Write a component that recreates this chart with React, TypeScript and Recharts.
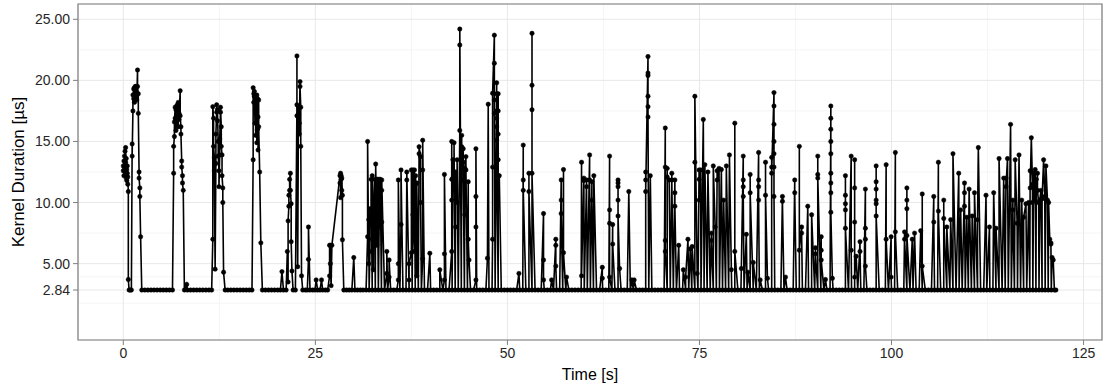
import React from 'react';
import { ComposedChart, Line, XAxis, YAxis, CartesianGrid, ReferenceArea } from 'recharts';

// kernel duration at rest (µs)
const BASE = 2.84;

// axis breaks
const xTicks = [0, 25, 50, 75, 100, 125];
const xMinorTicks = [12.5, 37.5, 62.5, 87.5, 112.5];
const yTicks = [2.84, 5, 10, 15, 20, 25];
const yMinorTicks = [0.68, 1.76, 3.92, 7.5, 12.5, 17.5, 22.5];
const X_DOMAIN: [number, number] = [-5.9, 127.4];
const Y_DOMAIN: [number, number] = [-1.25, 26.25];

// samples sitting on the baseline (time in s)
const baseA = [
  0.75, 0.9, 1.05,
  2.4, 2.8, 3.2, 3.6, 4.0, 4.4, 4.8, 5.2, 5.6, 6.0, 6.4,
  7.95, 8.35, 8.75, 9.15, 9.55, 9.95, 10.35, 10.75, 11.15, 11.5,
  13.25, 13.6, 14.0, 14.4, 14.8, 15.2, 15.6, 16.0, 16.4, 16.75,
  18.1, 18.5, 18.9, 19.3, 19.7, 20.1, 20.45, 20.85, 21.2,
  22.1, 22.4,
  23.35, 23.7, 23.95, 24.3, 24.65, 24.95, 25.3, 25.6, 25.95, 26.3, 26.6,
  28.7, 29.05, 29.4, 29.75, 30.15, 30.5, 30.85, 31.2,
];
const baseB = [
  31.6, 32.0, 32.4, 32.8, 33.2, 33.6, 34.0, 34.4, 34.8, 35.2, 35.6, 36.0, 36.4, 36.8,
  37.2, 37.6, 38.0, 38.4, 38.8, 39.2, 39.6, 40.0, 40.4, 40.8, 41.2, 41.6, 42.0, 42.4,
  42.8, 43.2, 43.6, 44.0, 44.4, 44.8, 45.2, 45.6, 46.0, 46.4, 46.8, 47.2, 47.6, 48.0,
  48.4, 48.8, 49.2, 49.6, 50.0, 50.4, 50.8, 51.2, 51.6, 52.0, 52.4, 52.8, 53.2, 53.6,
  54.0, 54.4, 54.8, 55.2, 55.6, 56.0, 56.4, 56.8, 57.2, 57.6, 58.0, 58.4, 58.8, 59.2, 59.6,
];
const baseC = [
  60.0, 60.4, 60.8, 61.2, 61.6, 62.0, 62.4, 62.8, 63.2, 63.6, 64.0, 64.4, 64.8, 65.2,
  65.6, 66.0, 66.4, 66.8, 67.2, 67.6, 68.0, 68.4, 68.8, 69.2, 69.6, 70.0, 70.4, 70.8,
  71.2, 71.6, 72.0, 72.4, 72.8, 73.2, 73.6, 74.0, 74.4, 74.8, 75.2, 75.6, 76.0, 76.4,
  76.8, 77.2, 77.6, 78.0, 78.4, 78.8, 79.2, 79.6, 80.0, 80.4, 80.8, 81.2, 81.6, 82.0,
  82.4, 82.8, 83.2, 83.6, 84.0, 84.4, 84.8, 85.2, 85.6, 86.0, 86.4, 86.8, 87.2, 87.6,
  88.0, 88.4, 88.8, 89.2, 89.6,
];
const baseD = [
  90.0, 90.4, 90.8, 91.2, 91.6, 92.0, 92.4, 92.8, 93.2, 93.6, 94.0, 94.4, 94.8, 95.2,
  95.6, 96.0, 96.4, 96.8, 97.2, 97.6, 98.0, 98.4, 98.8, 99.2, 99.6, 100.0, 100.4, 100.8,
  101.2, 101.6, 102.0, 102.4, 102.8, 103.2, 103.6, 104.0, 104.4, 104.8, 105.2, 105.6,
  106.0, 106.4, 106.8, 107.2, 107.6, 108.0, 108.4, 108.8, 109.2, 109.6, 110.0, 110.4,
  110.8, 111.2, 111.6, 112.0, 112.4, 112.8, 113.2, 113.6, 114.0, 114.4, 114.8, 115.2,
  115.6, 116.0, 116.4, 116.8, 117.2, 117.6, 118.0, 118.4, 118.8, 119.2, 119.6, 120.0,
  120.4, 120.8, 121.2, 121.4,
];

// bursts: [time s, durations µs at that time]
const burstsA: [number, number[]][] = [
  [0.0, [13.0, 12.6]], [0.08, [13.4, 12.2]], [0.15, [13.8, 12.9]], [0.22, [14.2, 13.1]],
  [0.3, [12.5, 14.5, 13.3]], [0.38, [12.0, 13.6]], [0.45, [12.7, 11.8]], [0.52, [13.0, 12.4]],
  [0.58, [11.5, 12.1]], [0.65, [10.9, 3.7]],
  [1.15, [14.8, 13.8]], [1.25, [17.5, 18.8]], [1.35, [19.3, 18.5]], [1.45, [19.4, 18.2]],
  [1.55, [19.5, 18.9]], [1.65, [19.5, 18.6]], [1.75, [19.0, 18.4]], [1.85, [20.85, 19.5]],
  [1.95, [18.9, 17.3]], [2.05, [12.5, 12.0]], [2.15, [11.2, 10.5]], [2.25, [7.2]],
  [6.55, [12.4, 14.6]], [6.65, [15.4, 16.6]], [6.75, [17.8, 16.9]], [6.85, [17.6, 15.9]],
  [6.95, [17.9, 16.4]], [7.05, [18.0, 17.2]], [7.15, [16.2, 18.2]], [7.25, [17.3, 16.8]],
  [7.4, [19.15, 17.1]], [7.5, [16.2, 15.6]], [7.6, [13.4, 12.9]], [7.7, [12.2, 11.6]],
  [7.8, [11.0]],
  [8.25, [3.3]],
  [11.65, [7.0, 17.85]], [11.75, [16.9, 14.6]], [11.85, [13.7, 12.6]], [11.95, [4.55]],
  [12.05, [13.2, 15.6]], [12.15, [17.4, 18.0]], [12.25, [16.7, 17.6]], [12.35, [15.0, 13.8]],
  [12.45, [12.6, 11.3]], [12.55, [13.9, 15.2]], [12.65, [17.4, 17.8]], [12.75, [16.2, 14.6]],
  [12.85, [13.9, 12.2]], [12.95, [11.2, 10.0]], [13.05, [4.3]],
  [16.9, [13.5, 19.4]], [16.98, [18.9, 18.2]], [17.06, [19.1, 18.7]], [17.14, [16.5, 18.6]],
  [17.22, [18.3, 15.5]], [17.3, [18.7, 17.6]], [17.38, [14.9, 18.8]], [17.46, [16.0, 18.5]],
  [17.54, [17.0, 14.3]], [17.62, [18.4, 16.2]], [17.75, [12.5]], [17.9, [6.7]],
  [20.65, [4.35]],
  [21.35, [6.0]], [21.45, [3.5, 8.5]], [21.55, [9.7, 10.6]], [21.65, [11.0, 11.9]],
  [21.75, [12.4, 11.0]], [21.85, [9.9, 6.8]], [21.95, [4.4]],
  [22.6, [18.0, 22.0, 17.1]], [22.7, [4.75]], [22.8, [17.85, 17.2]], [22.9, [16.5, 15.6]],
  [23.0, [19.9, 19.5]], [23.1, [17.8, 14.6]], [23.2, [4.0]],
  [24.1, [5.35, 8.0]], [25.1, [3.67]], [25.8, [3.67]],
  [26.85, [4.0, 6.5]], [26.95, [6.5, 5.0]], [27.05, [3.2]], [27.15, [6.5]],
  [28.2, [12.2, 11.6]], [28.28, [12.4, 10.4]], [28.36, [11.9, 12.2]], [28.44, [11.0, 12.0]],
  [28.52, [10.6, 6.95]],
  [30.0, [5.5]],
];

const burstsB: [number, number[]][] = [
  [31.8, [7.2, 15.0]], [31.95, [5.0, 8.6]], [32.1, [6.0, 9.5]], [32.25, [8.2, 11.9]],
  [32.4, [7.0, 12.2]], [32.55, [4.5, 9.0]], [32.7, [11.9]], [32.85, [9.5, 13.15]],
  [33.0, [6.5, 11.9]], [33.1, [11.9, 10.0]], [33.3, [8.0, 11.9]], [33.45, [11.9]],
  [33.64, [8.4, 11.0, 11.85]], [34.3, [4.2, 6.0]], [34.6, [3.9, 5.3]],
  [35.8, [3.67, 5.0, 11.85]], [36.15, [8.2, 12.67]], [36.9, [11.85, 12.5]], [37.2, [3.67, 5.0]],
  [37.5, [5.9, 12.67]], [37.7, [12.67, 9.0]], [37.9, [6.0, 12.67]], [38.05, [11.5, 12.2]],
  [38.2, [4.0, 11.6]], [38.5, [14.0, 14.57]], [38.7, [13.76, 10.0]], [38.97, [5.4, 12.67, 15.1]],
  [39.9, [5.85]], [41.2, [4.5]], [41.8, [3.67, 5.8, 12.3]],
  [42.75, [6.0, 10.2, 11.9, 15.0]], [42.9, [12.0, 13.5]], [43.05, [11.5, 14.9]],
  [43.25, [8.0, 12.5]], [43.45, [10.0, 13.5]], [43.8, [15.9, 22.9, 24.2]],
  [44.05, [15.5, 14.57, 12.9]], [44.25, [14.4, 13.3, 11.85]], [44.45, [9.0, 12.8]],
  [44.6, [13.76, 12.67]], [44.9, [11.7, 7.0]], [45.0, [5.3]], [45.9, [3.67, 8.0, 10.5, 14.4]],
  [47.4, [5.45]], [47.5, [18.05]], [48.07, [7.0, 12.9, 18.94]], [48.3, [23.7, 21.4, 18.4, 17.3]],
  [48.6, [19.8, 18.9, 17.5, 16.9, 16.2, 15.1, 14.0]], [48.8, [18.9, 17.5, 15.6, 13.5, 12.2]],
  [48.94, [12.2]],
  [51.5, [4.2]], [52.06, [14.7, 11.85, 11.0]], [52.8, [12.4, 10.9]],
  [53.2, [23.85, 19.6, 17.6, 12.4]], [54.7, [9.1, 5.3, 3.67]], [55.75, [3.67]],
  [56.3, [7.0, 6.5, 4.8]], [57.0, [11.85, 10.2, 9.1]], [57.3, [12.7, 5.9]], [57.7, [3.9]],
  [59.65, [13.3, 4.0]], [59.95, [12.0, 11.8]],
];

const burstsC: [number, number[]][] = [
  [60.3, [11.85, 11.3]], [60.7, [13.9, 11.85]], [61.0, [11.7, 10.2]], [61.25, [12.2]],
  [62.35, [4.7, 3.8]], [63.3, [13.8, 9.4, 8.3, 3.9]], [63.7, [8.2, 6.6]],
  [64.4, [11.85, 11.6, 11.3, 10.2, 8.9]], [64.6, [4.6]], [65.8, [10.9]],
  [66.2, [3.67]], [66.5, [3.67]],
  [68.0, [12.5, 11.85, 10.9]], [68.3, [21.95, 20.6, 20.4, 18.7, 17.85, 17.0]], [68.6, [12.2]],
  [70.55, [16.1, 12.9, 6.9, 6.0]], [70.8, [12.8, 12.1]], [71.05, [11.85]], [71.4, [12.4, 11.85]],
  [71.8, [11.85, 10.8, 9.7]], [72.3, [6.5]], [72.9, [4.5]], [73.2, [3.9]], [73.5, [7.0]],
  [73.8, [6.2]], [74.05, [6.4]], [74.4, [13.3, 18.7]], [74.7, [4.2]],
  [74.95, [12.67, 11.9, 10.2]], [75.15, [12.67]], [75.5, [16.8]], [75.7, [13.1]],
  [76.1, [12.5]], [76.55, [7.5, 6.9]], [76.8, [13.0]], [77.05, [8.0]], [77.3, [12.6, 11.85]],
  [77.55, [12.8]], [77.85, [12.7]], [78.15, [10.2]], [78.5, [13.0]], [78.9, [13.9]],
  [79.15, [4.5]], [79.6, [16.5, 6.0]], [80.45, [4.6]], [80.7, [13.8, 11.85, 11.3, 10.5]],
  [81.1, [7.4]], [81.3, [4.3]], [81.6, [12.3, 10.8]], [82.0, [5.1]],
  [82.7, [14.1, 11.85, 11.3, 10.2]], [82.9, [3.67]], [83.6, [13.3, 10.6]], [83.85, [3.8]],
  [84.4, [13.7, 12.9, 12.4]], [84.7, [19.0, 17.9, 16.4, 15.0, 14.0, 12.9, 10.5]],
  [85.8, [10.5, 10.1]], [86.2, [3.9]], [87.4, [11.85, 10.8]], [88.0, [14.6, 6.1]],
  [88.3, [8.0, 7.5]], [89.1, [9.7]], [89.6, [9.0]],
];

const burstsD: [number, number[]][] = [
  [90.1, [6.3, 5.8]], [90.4, [13.8, 12.3, 12.0]], [90.85, [7.2, 6.1, 5.3]], [91.4, [3.7]],
  [92.1, [17.9, 16.9, 16.0, 15.0, 14.0, 12.4, 11.6, 10.8, 9.2]], [92.3, [3.8]],
  [94.0, [12.2, 10.6, 9.9, 9.4, 7.9]], [94.75, [13.8, 6.1]], [95.2, [13.5, 11.2, 8.4, 3.9]],
  [95.4, [5.6]], [95.9, [6.8, 6.0]], [96.6, [11.1, 7.9, 7.0, 4.8]],
  [98.0, [13.0, 11.7, 11.1, 10.2, 9.9, 8.9]], [99.3, [13.1, 7.0]], [99.95, [7.2, 3.9]],
  [100.5, [14.1, 7.6]], [101.7, [7.6, 7.0]], [102.0, [11.2, 10.2, 9.5, 7.3]], [102.7, [7.0]],
  [103.0, [7.5]], [103.8, [7.7]], [104.0, [10.7, 4.8]], [105.5, [10.5, 8.4]],
  [106.1, [13.3, 9.3]], [106.8, [10.2, 8.7]], [107.2, [8.0]], [107.7, [8.6]], [108.0, [14.0]],
  [108.75, [12.4]], [109.0, [9.4]], [109.5, [11.6, 10.8, 9.7]], [109.8, [8.8]],
  [110.1, [11.1]], [110.5, [8.9]], [110.8, [10.8]], [111.2, [8.6]], [111.3, [14.5]],
  [112.3, [10.6]], [112.75, [8.0]], [113.3, [10.8]], [113.6, [7.9]], [114.0, [13.6]],
  [114.6, [12.0]], [114.9, [12.0, 11.3]], [115.1, [13.6]], [115.5, [16.4]],
  [115.8, [10.2, 9.4]], [116.1, [13.5]], [116.35, [8.3]], [116.6, [13.9]], [116.95, [10.2]],
  [117.2, [8.8]], [117.5, [9.9]], [117.85, [10.0]], [118.05, [12.6, 11.2]], [118.2, [15.3]],
  [118.35, [11.5, 10.0]], [118.5, [12.4]], [118.6, [10.2]], [118.7, [12.7]],
  [118.85, [11.9, 10.9]], [119.0, [12.4, 11.0]], [119.15, [10.0]], [119.3, [10.2]],
  [119.45, [11.0]], [119.6, [10.3]], [119.8, [13.5]], [119.95, [10.5]], [120.1, [13.0]],
  [120.3, [10.2]], [120.45, [10.0]], [120.6, [7.0]], [120.75, [6.7, 6.6]], [120.9, [5.5]],
  [121.05, [5.3]],
];

const samples = [...baseA, ...baseB, ...baseC, ...baseD]
  .map((t) => ({ t, v: BASE }))
  .concat(
    [...burstsA, ...burstsB, ...burstsC, ...burstsD].flatMap(([t, vs]) => vs.map((v) => ({ t, v })))
  )
  .sort((a, b) => a.t - b.t);

const FONT = '"Liberation Sans", Arial, Helvetica, sans-serif';
const tickStyle = { fill: '#262626', fontSize: 14, fontFamily: FONT };

export default function App() {
  return (
    <div style={{ position: 'absolute', left: 0, top: 0, width: 1108, height: 386, background: '#fff', fontFamily: FONT }}>
      <ComposedChart width={1108} height={386} data={samples} margin={{ top: 4, right: 6, bottom: 0, left: 0 }}>
        <XAxis xAxisId="minor" type="number" dataKey="t" domain={X_DOMAIN} ticks={xMinorTicks} allowDataOverflow hide />
        <YAxis yAxisId="minor" type="number" domain={Y_DOMAIN} ticks={yMinorTicks} allowDataOverflow hide />
        <CartesianGrid xAxisId="minor" yAxisId="minor" stroke="#F5F5F5" strokeWidth={1} />
        <CartesianGrid stroke="#E8E8E8" strokeWidth={1} />
        <XAxis
          type="number"
          dataKey="t"
          domain={X_DOMAIN}
          ticks={xTicks}
          allowDataOverflow
          height={46}
          axisLine={false}
          tickLine={{ stroke: '#7F7F7F' }}
          tickSize={5}
          tickMargin={3}
          tick={tickStyle}
          label={{ value: 'Time [s]', position: 'insideBottom', offset: 6, fill: '#000', fontSize: 16, fontFamily: FONT }}
        />
        <YAxis
          type="number"
          domain={Y_DOMAIN}
          ticks={yTicks}
          allowDataOverflow
          width={78}
          axisLine={false}
          tickLine={{ stroke: '#7F7F7F' }}
          tickSize={5}
          tickMargin={3}
          tick={tickStyle}
          tickFormatter={(v: number) => v.toFixed(2)}
          label={{ value: 'Kernel Duration [µs]', angle: -90, position: 'insideLeft', offset: 18, fill: '#000', fontSize: 17, fontFamily: FONT, style: { textAnchor: 'middle' } }}
        />
        <ReferenceArea x1={X_DOMAIN[0]} x2={X_DOMAIN[1]} y1={Y_DOMAIN[0]} y2={Y_DOMAIN[1]} fill="none" stroke="#7F7F7F" strokeWidth={1.2} ifOverflow="visible" />
        <Line
          type="linear"
          dataKey="v"
          stroke="#000"
          strokeWidth={1.6}
          dot={{ r: 2.2, fill: '#000', stroke: '#000', strokeWidth: 0.5 }}
          activeDot={false}
          isAnimationActive={false}
        />
      </ComposedChart>
    </div>
  );
}
